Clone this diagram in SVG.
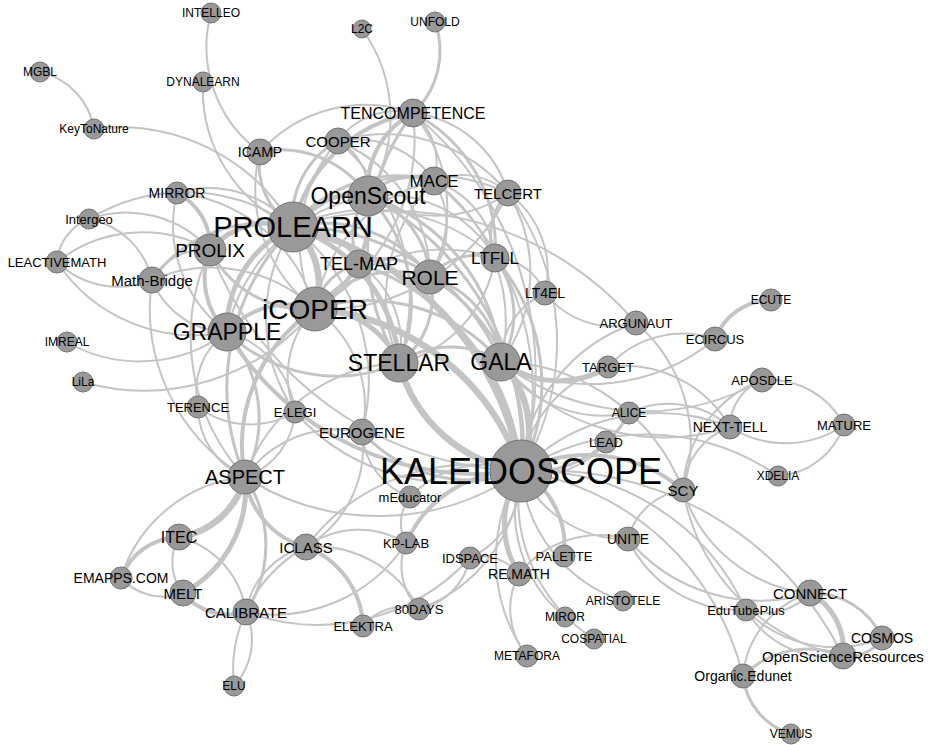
<svg xmlns="http://www.w3.org/2000/svg" width="932" height="745" viewBox="0 0 932 745">
<style>
.e path{fill:none;stroke:#c4c4c4;stroke-width:2;stroke-linecap:round}
.e .w3{stroke-width:3}
.e .w4{stroke-width:4}
.e .w5{stroke-width:5}
.e .w6{stroke-width:6.5}
circle{fill:#999;stroke:#747474;stroke-width:1}
text{font-family:"Liberation Sans",Arial,sans-serif;text-anchor:middle;dominant-baseline:central;fill:#000}
</style>
<rect width="932" height="745" fill="#fff"/>
<g id="connectors" class="e">
<path d="M211 13 A130 130 0 0 0 260 152"/>
<path d="M203 82 A150 150 0 0 0 293 227"/>
<path d="M40 72 A70 70 0 0 1 94 129"/>
<path d="M94 129 A200 200 0 0 1 293 227"/>
<path d="M362 29 A150 150 0 0 1 368 196"/>
<path class="w3" d="M435 22 A85 85 0 0 1 413 113"/>
<path class="w3" d="M260 152 A75 75 0 0 0 293 227"/>
<path class="w3" d="M260 152 A105 105 0 0 1 368 196"/>
<path d="M260 152 A150 150 0 0 0 315 309"/>
<path class="w4" d="M177 193 A60 60 0 0 1 210 250"/>
<path d="M177 193 A110 110 0 0 1 293 227"/>
<path d="M177 193 A133 133 0 0 0 227 332"/>
<path d="M177 193 A160 160 0 0 1 315 309"/>
<path d="M89 219 A80 80 0 0 1 152 280"/>
<path d="M89 219 A112 112 0 0 1 210 250"/>
<path d="M89 219 A185 185 0 0 1 293 227"/>
<path d="M57 262 A50 50 0 0 1 89 219"/>
<path d="M57 262 A88 88 0 0 0 152 280"/>
<path d="M57 262 A138 138 0 0 1 210 250"/>
<path d="M57 262 A165 165 0 0 0 227 332"/>
<path d="M67 342 A145 145 0 0 0 227 332"/>
<path d="M83 382 A220 220 0 0 0 315 309"/>
<path d="M152 280 A60 60 0 0 1 210 250"/>
<path d="M152 280 A82 82 0 0 0 227 332"/>
<path class="w3" d="M152 280 A135 135 0 0 1 293 227"/>
<path d="M152 280 A150 150 0 0 1 315 309"/>
<path d="M152 280 A196 196 0 0 0 245 477"/>
<path d="M413 113 A72 72 0 0 0 338 141"/>
<path class="w4" d="M413 113 A150 150 0 0 0 293 227"/>
<path class="w4" d="M413 113 A85 85 0 0 0 368 196"/>
<path d="M413 113 A197 197 0 0 1 315 309"/>
<path d="M413 113 A64 64 0 0 1 434 181"/>
<path class="w3" d="M413 113 A150 150 0 0 1 495 258"/>
<path d="M413 113 A112 112 0 0 1 508 193"/>
<path d="M413 113 A148 148 0 0 1 430 277"/>
<path class="w3" d="M413 113 A225 225 0 0 0 399 363"/>
<path d="M413 113 A336 336 0 0 1 521 471"/>
<path d="M413 113 A142 142 0 0 0 260 152"/>
<path class="w3" d="M338 141 A87 87 0 0 0 293 227"/>
<path d="M338 141 A57 57 0 0 1 368 196"/>
<path d="M338 141 A153 153 0 0 0 315 309"/>
<path d="M338 141 A94 94 0 0 1 434 181"/>
<path d="M338 141 A160 160 0 0 1 508 193"/>
<path d="M338 141 A148 148 0 0 1 430 277"/>
<path d="M338 141 A207 207 0 0 1 399 363"/>
<path class="w3" d="M434 181 A61 61 0 0 0 368 196"/>
<path class="w3" d="M434 181 A133 133 0 0 0 293 227"/>
<path d="M434 181 A157 157 0 0 0 315 309"/>
<path d="M434 181 A88 88 0 0 1 495 258"/>
<path d="M434 181 A86 86 0 0 1 430 277"/>
<path d="M434 181 A68 68 0 0 1 508 193"/>
<path d="M434 181 A174 174 0 0 1 501 362"/>
<path d="M434 181 A167 167 0 0 0 399 363"/>
<path d="M434 181 A273 273 0 0 1 521 471"/>
<path class="w3" d="M508 193 A60 60 0 0 0 495 258"/>
<path d="M508 193 A152 152 0 0 1 501 362"/>
<path d="M508 193 A96 96 0 0 1 545 293"/>
<path d="M508 193 A126 126 0 0 1 368 196"/>
<path d="M508 193 A203 203 0 0 1 315 309"/>
<path d="M508 193 A250 250 0 0 1 521 471"/>
<path d="M508 193 A196 196 0 0 0 293 227"/>
<path class="w6" d="M293 227 A77 77 0 0 1 315 309"/>
<path class="w5" d="M293 227 A73 73 0 0 1 368 196"/>
<path class="w5" d="M293 227 A77 77 0 0 0 210 250"/>
<path class="w5" d="M293 227 A112 112 0 0 0 227 332"/>
<path class="w3" d="M293 227 A68 68 0 0 1 359 264"/>
<path class="w3" d="M293 227 A131 131 0 0 1 430 277"/>
<path class="w5" d="M293 227 A155 155 0 0 1 399 363"/>
<path class="w3" d="M293 227 A223 223 0 0 1 501 362"/>
<path class="w6" d="M293 227 A300 300 0 0 1 521 471"/>
<path d="M293 227 A184 184 0 0 1 495 258"/>
<path class="w3" d="M293 227 A229 229 0 0 0 245 477"/>
<path d="M293 227 A167 167 0 0 0 295 412"/>
<path d="M293 227 A195 195 0 0 1 362 432"/>
<path d="M293 227 A320 320 0 0 1 636 323"/>
<path class="w4" d="M315 309 A82 82 0 0 0 227 332"/>
<path class="w4" d="M315 309 A112 112 0 0 0 368 196"/>
<path class="w5" d="M315 309 A90 90 0 0 1 399 363"/>
<path class="w6" d="M315 309 A236 236 0 0 1 521 471"/>
<path class="w4" d="M315 309 A164 164 0 0 0 245 477"/>
<path class="w3" d="M315 309 A107 107 0 0 1 430 277"/>
<path class="w3" d="M315 309 A57 57 0 0 1 359 264"/>
<path class="w3" d="M315 309 A174 174 0 0 1 501 362"/>
<path d="M315 309 A168 168 0 0 1 495 258"/>
<path d="M315 309 A95 95 0 0 0 295 412"/>
<path d="M315 309 A119 119 0 0 1 362 432"/>
<path class="w3" d="M315 309 A108 108 0 0 1 210 250"/>
<path class="w3" d="M368 196 A92 92 0 0 1 430 277"/>
<path class="w3" d="M368 196 A153 153 0 0 1 399 363"/>
<path class="w3" d="M368 196 A191 191 0 0 1 501 362"/>
<path d="M368 196 A127 127 0 0 1 495 258"/>
<path class="w3" d="M368 196 A283 283 0 0 1 521 471"/>
<path class="w3" d="M368 196 A62 62 0 0 0 359 264"/>
<path d="M368 196 A176 176 0 0 0 227 332"/>
<path class="w6" d="M399 363 A147 147 0 0 0 521 471"/>
<path class="w3" d="M399 363 A92 92 0 0 1 501 362"/>
<path class="w3" d="M399 363 A82 82 0 0 0 430 277"/>
<path class="w3" d="M399 363 A157 157 0 0 1 227 332"/>
<path d="M399 363 A96 96 0 0 0 359 264"/>
<path d="M399 363 A128 128 0 0 0 495 258"/>
<path d="M399 363 A172 172 0 0 0 245 477"/>
<path class="w6" d="M501 362 A100 100 0 0 1 521 471"/>
<path class="w3" d="M501 362 A100 100 0 0 0 430 277"/>
<path class="w3" d="M501 362 A94 94 0 0 0 495 258"/>
<path class="w5" d="M501 362 A96 96 0 0 0 608 367"/>
<path d="M501 362 A74 74 0 0 1 545 293"/>
<path d="M501 362 A124 124 0 0 0 629 413"/>
<path d="M501 362 A214 214 0 0 0 730 427"/>
<path d="M501 362 A235 235 0 0 0 762 380"/>
<path d="M501 362 A194 194 0 0 0 715 339"/>
<path d="M501 362 A200 200 0 0 1 683 490"/>
<path class="w3" d="M430 277 A61 61 0 0 1 495 258"/>
<path class="w3" d="M430 277 A193 193 0 0 1 521 471"/>
<path class="w3" d="M430 277 A65 65 0 0 0 359 264"/>
<path class="w3" d="M495 258 A193 193 0 0 1 521 471"/>
<path d="M495 258 A55 55 0 0 1 545 293"/>
<path class="w3" d="M359 264 A236 236 0 0 1 521 471"/>
<path d="M545 293 A86 86 0 0 0 636 323"/>
<path d="M636 323 A156 156 0 0 1 683 490"/>
<path d="M636 323 A168 168 0 0 0 521 471"/>
<path class="w4" d="M227 332 A76 76 0 0 1 210 250"/>
<path class="w3" d="M227 332 A131 131 0 0 1 245 477"/>
<path class="w4" d="M227 332 A293 293 0 0 0 521 471"/>
<path d="M227 332 A94 94 0 0 1 295 412"/>
<path d="M227 332 A72 72 0 0 0 198 407"/>
<path class="w6" d="M245 477 A80 80 0 0 1 179 537"/>
<path class="w5" d="M245 477 A118 118 0 0 1 183 593"/>
<path class="w3" d="M245 477 A122 122 0 0 1 246 612"/>
<path class="w4" d="M245 477 A84 84 0 0 0 306 547"/>
<path d="M245 477 A144 144 0 0 0 121 578"/>
<path d="M245 477 A248 248 0 0 0 521 471"/>
<path d="M245 477 A76 76 0 0 1 198 407"/>
<path d="M245 477 A74 74 0 0 0 295 412"/>
<path d="M245 477 A113 113 0 0 1 362 432"/>
<path d="M245 477 A207 207 0 0 1 210 250"/>
<path class="w4" d="M179 537 A64 64 0 0 0 121 578"/>
<path d="M179 537 A50 50 0 0 0 183 593"/>
<path d="M179 537 A91 91 0 0 1 246 612"/>
<path d="M121 578 A57 57 0 0 0 183 593"/>
<path class="w4" d="M183 593 A59 59 0 0 0 246 612"/>
<path d="M246 612 A80 80 0 0 1 306 547"/>
<path d="M246 612 A68 68 0 0 1 234 686"/>
<path d="M246 612 A207 207 0 0 0 470 558"/>
<path d="M246 612 A157 157 0 0 0 406 543"/>
<path class="w4" d="M306 547 A88 88 0 0 1 363 626"/>
<path d="M306 547 A90 90 0 0 1 406 543"/>
<path d="M306 547 A116 116 0 0 1 419 609"/>
<path d="M306 547 A141 141 0 0 0 234 686"/>
<path d="M306 547 A205 205 0 0 1 521 471"/>
<path d="M306 547 A115 115 0 0 0 362 432"/>
<path d="M363 626 A53 53 0 0 1 419 609"/>
<path d="M419 609 A61 61 0 0 1 406 543"/>
<path d="M419 609 A155 155 0 0 0 521 471"/>
<path d="M419 609 A65 65 0 0 0 470 558"/>
<path d="M406 543 A42 42 0 0 1 410 497"/>
<path class="w4" d="M406 543 A122 122 0 0 1 521 471"/>
<path d="M410 497 A103 103 0 0 1 521 471"/>
<path d="M410 497 A73 73 0 0 1 362 432"/>
<path d="M470 558 A91 91 0 0 0 521 471"/>
<path d="M470 558 A47 47 0 0 1 519 574"/>
<path class="w5" d="M519 574 A93 93 0 0 1 521 471"/>
<path d="M519 574 A74 74 0 0 0 527 656"/>
<path d="M519 574 A103 103 0 0 1 628 539"/>
<path class="w4" d="M564 556 A86 86 0 0 0 521 471"/>
<path d="M565 617 A137 137 0 0 1 521 471"/>
<path d="M527 656 A167 167 0 0 1 521 471"/>
<path d="M594 639 A165 165 0 0 1 521 471"/>
<path d="M623 601 A149 149 0 0 1 521 471"/>
<path d="M628 539 A114 114 0 0 1 521 471"/>
<path d="M628 539 A66 66 0 0 1 683 490"/>
<path d="M628 539 A171 171 0 0 0 810 593"/>
<path d="M628 539 A124 124 0 0 0 746 610"/>
<path class="w4" d="M683 490 A147 147 0 0 0 521 471"/>
<path d="M683 490 A71 71 0 0 1 730 427"/>
<path d="M683 490 A122 122 0 0 1 762 380"/>
<path d="M683 490 A147 147 0 0 0 810 593"/>
<path d="M683 490 A207 207 0 0 0 843 656"/>
<path d="M730 427 A192 192 0 0 0 521 471"/>
<path d="M730 427 A92 92 0 0 0 629 413"/>
<path d="M730 427 A122 122 0 0 0 608 367"/>
<path d="M730 427 A51 51 0 0 1 762 380"/>
<path d="M730 427 A103 103 0 0 0 844 425"/>
<path d="M762 380 A84 84 0 0 1 844 425"/>
<path d="M844 425 A75 75 0 0 1 778 476"/>
<path d="M606 442 A81 81 0 0 1 521 471"/>
<path class="w3" d="M629 413 A110 110 0 0 1 521 471"/>
<path d="M608 367 A122 122 0 0 0 521 471"/>
<path class="w4" d="M715 339 A61 61 0 0 1 771 300"/>
<path d="M715 339 A100 100 0 0 0 608 367"/>
<path class="w3" d="M362 432 A147 147 0 0 0 521 471"/>
<path d="M295 412 A210 210 0 0 0 521 471"/>
<path d="M295 412 A87 87 0 0 1 198 407"/>
<path d="M521 471 A272 272 0 0 1 743 676"/>
<path d="M521 471 A238 238 0 0 1 746 610"/>
<path d="M521 471 A334 334 0 0 1 843 656"/>
<path d="M521 471 A231 231 0 0 1 778 476"/>
<path class="w3" d="M810 593 A76 76 0 0 1 882 638"/>
<path class="w5" d="M810 593 A64 64 0 0 1 843 656"/>
<path d="M810 593 A96 96 0 0 0 743 676"/>
<path d="M810 593 A60 60 0 0 1 746 610"/>
<path class="w3" d="M882 638 A39 39 0 0 1 843 656"/>
<path d="M746 610 A97 97 0 0 0 843 656"/>
<path d="M746 610 A125 125 0 0 0 882 638"/>
<path class="w3" d="M743 676 A92 92 0 0 1 843 656"/>
<path class="w3" d="M743 676 A68 68 0 0 0 791 734"/>
<path d="M210 250 A343 343 0 0 0 521 471"/>
</g>
<g id="n-INTELLEO"><circle cx="211" cy="13" r="10"/><text x="211" y="13" font-size="12">INTELLEO</text></g>
<g id="n-MGBL"><circle cx="40" cy="72" r="10"/><text x="40" y="72" font-size="12">MGBL</text></g>
<g id="n-DYNALEARN"><circle cx="203" cy="82" r="10"/><text x="203" y="82" font-size="12">DYNALEARN</text></g>
<g id="n-KeyToNature"><circle cx="94" cy="129" r="10"/><text x="94" y="129" font-size="12">KeyToNature</text></g>
<g id="n-L2C"><circle cx="362" cy="29" r="9"/><text x="362" y="29" font-size="12">L2C</text></g>
<g id="n-UNFOLD"><circle cx="435" cy="22" r="10"/><text x="435" y="22" font-size="12">UNFOLD</text></g>
<g id="n-Intergeo"><circle cx="89" cy="219" r="10"/><text x="89" y="219" font-size="13">Intergeo</text></g>
<g id="n-IMREAL"><circle cx="67" cy="342" r="10"/><text x="67" y="342" font-size="12">IMREAL</text></g>
<g id="n-LiLa"><circle cx="83" cy="382" r="10"/><text x="83" y="382" font-size="12">LiLa</text></g>
<g id="n-ELU"><circle cx="234" cy="686" r="10"/><text x="234" y="686" font-size="12">ELU</text></g>
<g id="n-VEMUS"><circle cx="791" cy="734" r="10"/><text x="791" y="734" font-size="12">VEMUS</text></g>
<g id="n-XDELIA"><circle cx="778" cy="476" r="10"/><text x="778" y="476" font-size="12">XDELIA</text></g>
<g id="n-ECUTE"><circle cx="771" cy="300" r="11"/><text x="771" y="300" font-size="12">ECUTE</text></g>
<g id="n-ARISTOTELE"><circle cx="623" cy="601" r="10"/><text x="623" y="601" font-size="12">ARISTOTELE</text></g>
<g id="n-MIROR"><circle cx="565" cy="617" r="10"/><text x="565" y="617" font-size="12">MIROR</text></g>
<g id="n-COSPATIAL"><circle cx="594" cy="639" r="10"/><text x="594" y="639" font-size="12">COSPATIAL</text></g>
<g id="n-METAFORA"><circle cx="527" cy="656" r="11"/><text x="527" y="656" font-size="12">METAFORA</text></g>
<g id="n-ALICE"><circle cx="629" cy="413" r="11"/><text x="629" y="413" font-size="12">ALICE</text></g>
<g id="n-LEAD"><circle cx="606" cy="442" r="11"/><text x="606" y="442" font-size="13">LEAD</text></g>
<g id="n-TARGET"><circle cx="608" cy="367" r="11"/><text x="608" y="367" font-size="13">TARGET</text></g>
<g id="n-ARGUNAUT"><circle cx="636" cy="323" r="12"/><text x="636" y="323" font-size="13">ARGUNAUT</text></g>
<g id="n-ECIRCUS"><circle cx="715" cy="339" r="12"/><text x="715" y="339" font-size="13">ECIRCUS</text></g>
<g id="n-APOSDLE"><circle cx="762" cy="380" r="12"/><text x="762" y="380" font-size="13">APOSDLE</text></g>
<g id="n-MATURE"><circle cx="844" cy="425" r="11"/><text x="844" y="425" font-size="13">MATURE</text></g>
<g id="n-NEXT-TELL"><circle cx="730" cy="427" r="12"/><text x="730" y="427" font-size="14">NEXT-TELL</text></g>
<g id="n-SCY"><circle cx="683" cy="490" r="12"/><text x="683" y="490" font-size="15">SCY</text></g>
<g id="n-LEACTIVEMATH"><circle cx="57" cy="262" r="11"/><text x="57" y="262" font-size="13">LEACTIVEMATH</text></g>
<g id="n-TERENCE"><circle cx="198" cy="407" r="11"/><text x="198" y="407" font-size="13">TERENCE</text></g>
<g id="n-E-LEGI"><circle cx="295" cy="412" r="11"/><text x="295" y="412" font-size="13">E-LEGI</text></g>
<g id="n-mEducator"><circle cx="410" cy="497" r="11"/><text x="410" y="497" font-size="13">mEducator</text></g>
<g id="n-KP-LAB"><circle cx="406" cy="543" r="11"/><text x="406" y="543" font-size="13">KP-LAB</text></g>
<g id="n-IDSPACE"><circle cx="470" cy="558" r="11"/><text x="470" y="558" font-size="13">IDSPACE</text></g>
<g id="n-PALETTE"><circle cx="564" cy="556" r="11"/><text x="564" y="556" font-size="13">PALETTE</text></g>
<g id="n-80DAYS"><circle cx="419" cy="609" r="11"/><text x="419" y="609" font-size="13">80DAYS</text></g>
<g id="n-ELEKTRA"><circle cx="363" cy="626" r="11"/><text x="363" y="626" font-size="13">ELEKTRA</text></g>
<g id="n-EduTubePlus"><circle cx="746" cy="610" r="11"/><text x="746" y="610" font-size="13">EduTubePlus</text></g>
<g id="n-UNITE"><circle cx="628" cy="539" r="12"/><text x="628" y="539" font-size="14">UNITE</text></g>
<g id="n-RE.MATH"><circle cx="519" cy="574" r="12"/><text x="519" y="574" font-size="14">RE.MATH</text></g>
<g id="n-Organic.Edunet"><circle cx="743" cy="676" r="12"/><text x="743" y="676" font-size="14">Organic.Edunet</text></g>
<g id="n-COSMOS"><circle cx="882" cy="638" r="12"/><text x="882" y="638" font-size="14">COSMOS</text></g>
<g id="n-CONNECT"><circle cx="810" cy="593" r="13"/><text x="810" y="593" font-size="15">CONNECT</text></g>
<g id="n-OpenScienceResources"><circle cx="843" cy="656" r="13"/><text x="843" y="656" font-size="15">OpenScienceResources</text></g>
<g id="n-EMAPPS.COM"><circle cx="121" cy="578" r="11"/><text x="121" y="578" font-size="14">EMAPPS.COM</text></g>
<g id="n-ITEC"><circle cx="179" cy="537" r="13"/><text x="179" y="537" font-size="16">ITEC</text></g>
<g id="n-MELT"><circle cx="183" cy="593" r="13"/><text x="183" y="593" font-size="15">MELT</text></g>
<g id="n-CALIBRATE"><circle cx="246" cy="612" r="13"/><text x="246" y="612" font-size="15">CALIBRATE</text></g>
<g id="n-ICLASS"><circle cx="306" cy="547" r="13"/><text x="306" y="547" font-size="15">ICLASS</text></g>
<g id="n-EUROGENE"><circle cx="362" cy="432" r="13"/><text x="362" y="432" font-size="15">EUROGENE</text></g>
<g id="n-MIRROR"><circle cx="177" cy="193" r="11"/><text x="177" y="193" font-size="14">MIRROR</text></g>
<g id="n-ICAMP"><circle cx="260" cy="152" r="13"/><text x="260" y="152" font-size="14">ICAMP</text></g>
<g id="n-Math-Bridge"><circle cx="152" cy="280" r="13"/><text x="152" y="280" font-size="15">Math-Bridge</text></g>
<g id="n-LT4EL"><circle cx="545" cy="293" r="12"/><text x="545" y="293" font-size="14">LT4EL</text></g>
<g id="n-COOPER"><circle cx="338" cy="141" r="13"/><text x="338" y="141" font-size="15">COOPER</text></g>
<g id="n-TELCERT"><circle cx="508" cy="193" r="13"/><text x="508" y="193" font-size="15">TELCERT</text></g>
<g id="n-TENCOMPETENCE"><circle cx="413" cy="113" r="14"/><text x="413" y="113" font-size="16">TENCOMPETENCE</text></g>
<g id="n-MACE"><circle cx="434" cy="181" r="14"/><text x="434" y="181" font-size="17">MACE</text></g>
<g id="n-LTFLL"><circle cx="495" cy="258" r="14"/><text x="495" y="258" font-size="17">LTFLL</text></g>
<g id="n-TEL-MAP"><circle cx="359" cy="264" r="14"/><text x="359" y="264" font-size="18">TEL-MAP</text></g>
<g id="n-ASPECT"><circle cx="245" cy="477" r="17"/><text x="245" y="477" font-size="20">ASPECT</text></g>
<g id="n-PROLIX"><circle cx="210" cy="250" r="16"/><text x="210" y="250" font-size="19">PROLIX</text></g>
<g id="n-ROLE"><circle cx="430" cy="277" r="17"/><text x="430" y="277" font-size="21">ROLE</text></g>
<g id="n-GRAPPLE"><circle cx="227" cy="332" r="19"/><text x="227" y="332" font-size="23">GRAPPLE</text></g>
<g id="n-STELLAR"><circle cx="399" cy="363" r="19"/><text x="399" y="363" font-size="23">STELLAR</text></g>
<g id="n-GALA"><circle cx="501" cy="362" r="19"/><text x="501" y="362" font-size="23">GALA</text></g>
<g id="n-OpenScout"><circle cx="368" cy="196" r="20"/><text x="368" y="196" font-size="23">OpenScout</text></g>
<g id="n-iCOPER"><circle cx="315" cy="309" r="22"/><text x="315" y="309" font-size="28">iCOPER</text></g>
<g id="n-PROLEARN"><circle cx="293" cy="227" r="25"/><text x="293" y="227" font-size="29">PROLEARN</text></g>
<g id="n-KALEIDOSCOPE"><circle cx="521" cy="471" r="31"/><text x="521" y="471" font-size="36">KALEIDOSCOPE</text></g>
</svg>
